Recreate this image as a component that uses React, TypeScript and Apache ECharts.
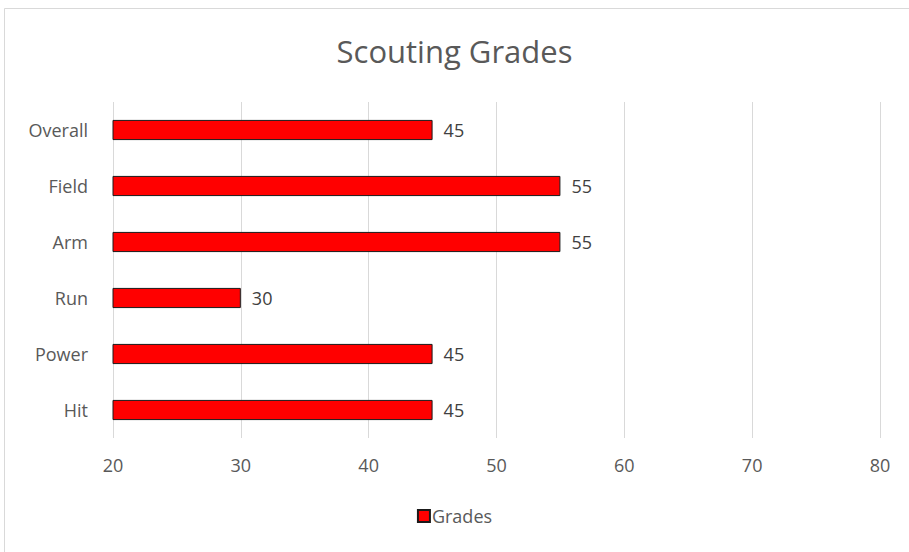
import React, { useEffect, useRef } from "react";
import * as echarts from "echarts";

const categories = ["Hit", "Power", "Run", "Arm", "Field", "Overall"];
const grades = [45, 45, 30, 55, 55, 45];
const seriesName = "Grades";
const chartTitle = "Scouting Grades";

export default function App() {
  const ref = useRef<HTMLDivElement>(null);
  useEffect(() => {
    if (!ref.current) return;
    const chart = echarts.init(ref.current, null, { renderer: "svg" });
    const font = "'Open Sans', 'Noto Sans', sans-serif";
    chart.setOption({
      animation: false,
      textStyle: { fontFamily: font },
      title: {
        text: chartTitle,
        left: "center",
        top: 30,
        textStyle: { fontSize: 31, fontWeight: "normal", color: "#595959", fontFamily: font },
      },
      graphic: [
        {
          type: "rect",
          shape: { x: 4.5, y: 8.5, width: 920, height: 560 },
          style: { fill: "none", stroke: "#d9d9d9", lineWidth: 1 },
          silent: true,
        },
      ],
      legend: {
        bottom: 22,
        left: "center",
        itemWidth: 12,
        itemHeight: 12,
        itemGap: 4,
        icon: "rect",
        textStyle: { fontSize: 18, color: "#595959", fontFamily: font, padding: [0, 0, 0, -3] },
        data: [seriesName],
      },
      grid: { left: 113, right: 29, top: 102, bottom: 114, containLabel: false },
      xAxis: {
        type: "value",
        min: 20,
        max: 80,
        interval: 10,
        axisLine: { show: false },
        axisTick: { show: false },
        splitLine: { show: true, lineStyle: { color: "#d9d9d9", width: 1 } },
        axisLabel: { fontSize: 18, color: "#595959", margin: 18, fontFamily: font },
      },
      yAxis: {
        type: "category",
        data: categories,
        axisLine: { show: false },
        axisTick: { show: false },
        axisLabel: { fontSize: 18, color: "#595959", margin: 25, fontFamily: font },
      },
      series: [
        {
          name: seriesName,
          type: "bar",
          data: grades,
          barWidth: "36%",
          itemStyle: { color: "#ff0000", borderColor: "#1a1a1a", borderWidth: 1 },
          label: {
            show: true,
            position: "right",
            distance: 11,
            fontSize: 18,
            color: "#404040",
            fontFamily: font,
          },
        },
      ],
    });
    return () => chart.dispose();
  }, []);
  return (
    <div
      ref={ref}
      style={{ position: "absolute", left: 0, top: 0, width: 909, height: 552, background: "#fff" }}
    />
  );
}
